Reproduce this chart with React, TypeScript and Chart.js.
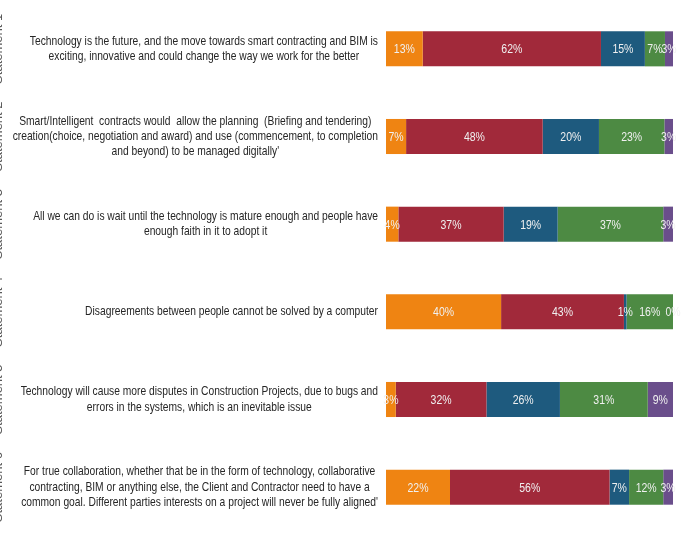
import React, { useEffect, useRef } from "react";
import { Chart, registerables } from "chart.js";

Chart.register(...registerables);

const statementTitles = ["Statement 1", "Statement 2", "Statement 3", "Statement 4", "Statement 5", "Statement 6"];

const statementLines: string[][] = [
  [
    "Technology is the future, and the move towards smart contracting and BIM is",
    "exciting, innovative and could change the way we work for the better",
  ],
  [
    "Smart/Intelligent  contracts would  allow the planning  (Briefing and tendering)",
    "creation(choice, negotiation and award) and use (commencement, to completion",
    "and beyond) to be managed digitally'",
  ],
  [
    "All we can do is wait until the technology is mature enough and people have",
    "enough faith in it to adopt it",
  ],
  ["Disagreements between people cannot be solved by a computer"],
  [
    "Technology will cause more disputes in Construction Projects, due to bugs and",
    "errors in the systems, which is an inevitable issue",
  ],
  [
    "For true collaboration, whether that be in the form of technology, collaborative",
    "contracting, BIM or anything else, the Client and Contractor need to have a",
    "common goal. Different parties interests on a project will never be fully aligned'",
  ],
];

const seriesNames = ["Strongly agree", "Agree", "Neutral", "Disagree", "Strongly disagree"];
const stronglyAgree = [12.8, 7.0, 4.3, 40.1, 3.4, 22.3];
const agree = [62.1, 47.6, 36.7, 42.8, 31.6, 55.6];
const neutral = [15.3, 19.6, 18.8, 0.9, 25.6, 6.8];
const disagree = [7.0, 22.8, 36.8, 16.2, 30.6, 11.9];
const stronglyDisagree = [2.8, 3.0, 3.4, 0, 8.8, 3.4];
const seriesColors = ["#EF8412", "#A1293A", "#1E5A7E", "#4D8A43", "#6A4E8B"];

const FONT = '"Liberation Sans", Arial, sans-serif';
const NARROW_SCALE = 0.79;

function drawNarrow(ctx: any, text: string, x: number, y: number, sx: number) {
  ctx.save();
  ctx.translate(x, y);
  ctx.scale(sx, 1);
  ctx.fillText(text, 0, 0);
  ctx.restore();
}

const valueLabelPlugin = {
  id: "valueLabels",
  afterDatasetsDraw(chart: any) {
    const ctx = chart.ctx;
    ctx.save();
    ctx.font = `12.5px ${FONT}`;
    ctx.fillStyle = "#F0F0F0";
    ctx.textAlign = "center";
    ctx.textBaseline = "middle";
    chart.data.datasets.forEach((ds: any, di: number) => {
      const meta = chart.getDatasetMeta(di);
      meta.data.forEach((el: any, i: number) => {
        const v = ds.data[i];
        const cx = (el.x + el.base) / 2;
        drawNarrow(ctx, `${Math.round(v)}%`, cx, el.y + 1, 0.84);
      });
    });
    ctx.restore();
  },
};

const categoryLabelPlugin = {
  id: "categoryLabels",
  afterDraw(chart: any) {
    const ctx = chart.ctx;
    const yScale = chart.scales.y;
    const right = chart.chartArea.left - 8;
    const lh = 15.3;
    ctx.save();
    ctx.font = `13px ${FONT}`;
    ctx.fillStyle = "#262626";
    ctx.textAlign = "center";
    ctx.textBaseline = "middle";
    statementLines.forEach((lines, i) => {
      const cy = yScale.getPixelForValue(i);
      const maxW = Math.max(...lines.map((l) => ctx.measureText(l).width)) * NARROW_SCALE;
      const cx = right - maxW / 2;
      lines.forEach((line, j) => {
        drawNarrow(ctx, line, cx, cy + (j - (lines.length - 1) / 2) * lh, NARROW_SCALE);
      });
    });
    // rotated statement titles at the far left edge (mostly clipped)
    ctx.font = `13px ${FONT}`;
    ctx.fillStyle = "#595959";
    ctx.textAlign = "center";
    ctx.textBaseline = "alphabetic";
    statementTitles.forEach((t, i) => {
      const cy = yScale.getPixelForValue(i);
      ctx.save();
      ctx.translate(2, cy);
      ctx.rotate(-Math.PI / 2);
      ctx.fillText(t, 0, 0);
      ctx.restore();
    });
    ctx.restore();
  },
};

export default function App() {
  const ref = useRef<HTMLCanvasElement | null>(null);
  useEffect(() => {
    if (!ref.current) return;
    const seriesData = [stronglyAgree, agree, neutral, disagree, stronglyDisagree];
    const chart = new Chart(ref.current, {
      type: "bar",
      data: {
        labels: statementTitles,
        datasets: seriesNames.map((name, k) => ({
          label: name,
          data: seriesData[k],
          backgroundColor: seriesColors[k],
          borderWidth: 0,
          categoryPercentage: 0.8,
          barPercentage: 0.5,
        })),
      },
      options: {
        indexAxis: "y",
        responsive: false,
        animation: false,
        layout: { padding: { left: 0, right: 8, top: 5, bottom: 13 } },
        plugins: { legend: { display: false }, tooltip: { enabled: false } },
        scales: {
          x: { stacked: true, min: 0, max: 100, display: false },
          y: {
            stacked: true,
            grid: { display: false },
            border: { display: false },
            ticks: { display: false },
            afterFit: (s: any) => {
              s.width = 386;
            },
          },
        },
      },
      plugins: [valueLabelPlugin, categoryLabelPlugin],
    } as any);
    return () => chart.destroy();
  }, []);
  return (
    <div style={{ position: "absolute", left: 0, top: 0, width: 681, height: 544, background: "#fff" }}>
      <canvas ref={ref} width={681} height={544} style={{ display: "block" }} />
    </div>
  );
}
